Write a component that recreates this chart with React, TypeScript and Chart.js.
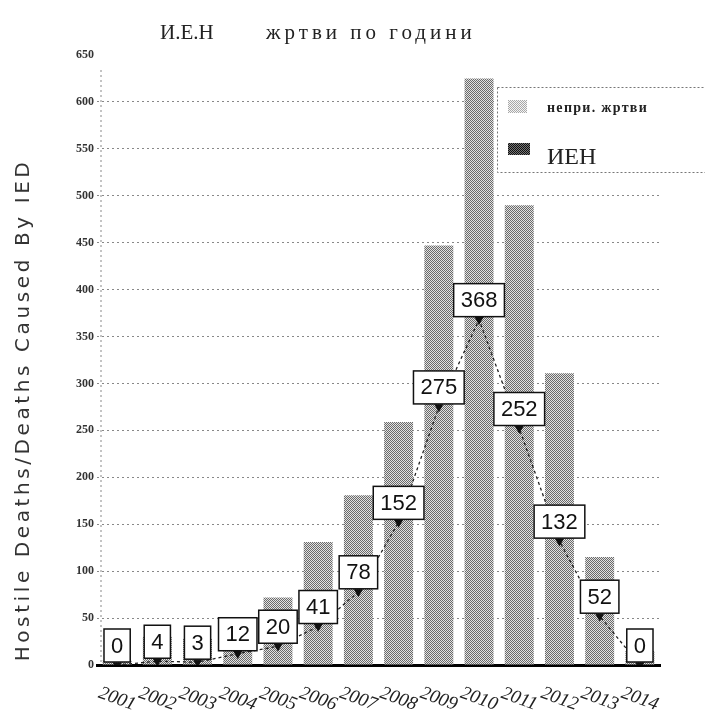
import React, { useEffect, useRef } from "react";
import { Chart, registerables } from "chart.js";

Chart.register(...registerables);

const years = ["2001", "2002", "2003", "2004", "2005", "2006", "2007", "2008", "2009", "2010", "2011", "2012", "2013", "2014"];
const hostileDeaths = [5, 30, 28, 51, 72, 131, 181, 259, 447, 625, 490, 311, 115, 15];
const iedDeaths = [0, 4, 3, 12, 20, 41, 78, 152, 275, 368, 252, 132, 52, 0];
const yMax = 650;
const yStep = 50;
const titleLeft = "И.Е.Н";
const titleRight = "жртви по години";
const yAxisTitle = "Hostile Deaths/Deaths Caused By IED";
const legendLabels = ["непри. жртви", "ИЕН"];

function makePattern(dark: string, light: string): CanvasPattern | string {
  const c = document.createElement("canvas");
  c.width = 2;
  c.height = 2;
  const g = c.getContext("2d");
  if (!g) return dark;
  g.fillStyle = light;
  g.fillRect(0, 0, 2, 2);
  g.fillStyle = dark;
  g.fillRect(0, 0, 1, 1);
  g.fillRect(1, 1, 1, 1);
  const p = g.createPattern(c, "repeat");
  return p || dark;
}

export default function App() {
  const ref = useRef<HTMLCanvasElement | null>(null);

  useEffect(() => {
    const canvas = ref.current;
    if (!canvas) return;
    const barPattern = makePattern("#6a6a6a", "#e2e2e2");
    const lightPattern = makePattern("#a8a8a8", "#f4f4f4");
    const darkPattern = makePattern("#111111", "#777777");

    const decorPlugin = {
      id: "decor",
      beforeDatasetsDraw(chart: any) {
        const { ctx, chartArea } = chart;
        ctx.save();
        ctx.strokeStyle = "#888";
        ctx.lineWidth = 1;
        ctx.setLineDash([2, 3]);
        ctx.beginPath();
        ctx.moveTo(chartArea.left + 4, chartArea.top + 15);
        ctx.lineTo(chartArea.left + 4, chartArea.bottom);
        ctx.stroke();
        ctx.restore();
      },
      afterDatasetsDraw(chart: any) {
        const { ctx } = chart;
        const meta = chart.getDatasetMeta(1);
        ctx.save();
        ctx.font = "22px 'Liberation Sans', Arial, sans-serif";
        ctx.textAlign = "center";
        ctx.textBaseline = "middle";
        meta.data.forEach((pt: any, i: number) => {
          const txt = String(iedDeaths[i]);
          const w = ctx.measureText(txt).width + 14;
          const h = 33;
          const bottom = pt.y - 3;
          const x0 = pt.x - w / 2;
          ctx.fillStyle = "#ffffff";
          ctx.fillRect(x0, bottom - h, w, h);
          ctx.strokeStyle = "#111";
          ctx.lineWidth = 1.5;
          ctx.setLineDash([]);
          ctx.strokeRect(x0, bottom - h, w, h);
          ctx.fillStyle = "#111";
          ctx.fillText(txt, pt.x, bottom - h / 2 + 1);
        });
        ctx.restore();
      },
      afterDraw(chart: any) {
        const { ctx, scales } = chart;
        ctx.save();
        // Title
        ctx.fillStyle = "#222";
        ctx.textBaseline = "middle";
        ctx.textAlign = "left";
        ctx.font = "21px 'Liberation Serif', 'DejaVu Serif', serif";
        ctx.fillText(titleLeft, 160, 33);
        ctx.save();
        ctx.font = "21px 'Liberation Serif', 'DejaVu Serif', serif";
        (ctx as any).letterSpacing = "4px";
        ctx.fillText(titleRight, 266, 33);
        ctx.restore();

        // Y axis title
        ctx.save();
        ctx.translate(24, 410);
        ctx.rotate(-Math.PI / 2);
        ctx.font = "20px 'DejaVu Sans', Verdana, sans-serif";
        (ctx as any).letterSpacing = "3.6px";
        ctx.fillStyle = "#333";
        ctx.textAlign = "center";
        ctx.textBaseline = "middle";
        ctx.fillText(yAxisTitle, 0, 0);
        ctx.restore();

        // X labels
        const xs = scales.x;
        ctx.font = "italic 19px 'Liberation Serif', 'DejaVu Serif', serif";
        ctx.fillStyle = "#222";
        ctx.textAlign = "center";
        ctx.textBaseline = "middle";
        years.forEach((y, i) => {
          const px = xs.getPixelForValue(i);
          ctx.save();
          ctx.translate(px, 699);
          ctx.rotate(0.35);
          ctx.fillText(y, 0, 0);
          ctx.restore();
        });

        // Legend
        const lx = 497, ly = 87, lw = 210, lh = 85;
        ctx.fillStyle = "#ffffff";
        ctx.fillRect(lx, ly, lw, lh);
        ctx.strokeStyle = "#777";
        ctx.lineWidth = 1;
        ctx.setLineDash([2, 2]);
        ctx.strokeRect(lx + 0.5, ly + 0.5, lw, lh);
        ctx.setLineDash([]);
        ctx.fillStyle = lightPattern as any;
        ctx.fillRect(508, 100, 19, 13);
        ctx.fillStyle = darkPattern as any;
        ctx.fillRect(508, 143, 22, 12);
        ctx.fillStyle = "#222";
        ctx.textAlign = "left";
        ctx.save();
        ctx.font = "bold 14px 'Liberation Serif', 'DejaVu Serif', serif";
        (ctx as any).letterSpacing = "1.3px";
        ctx.fillText(legendLabels[0], 547, 108);
        ctx.restore();
        ctx.font = "24px 'Liberation Serif', 'DejaVu Serif', serif";
        ctx.fillText(legendLabels[1], 547, 158);
        ctx.restore();
      },
    };

    const chart = new Chart(canvas, {
      type: "bar",
      data: {
        labels: years,
        datasets: [
          {
            type: "bar",
            label: legendLabels[0],
            data: hostileDeaths,
            backgroundColor: barPattern as any,
            borderWidth: 0,
            barPercentage: 0.72,
            categoryPercentage: 1,
            order: 1,
          },
          {
            type: "line",
            label: legendLabels[1],
            data: iedDeaths,
            borderColor: "#222",
            borderWidth: 1.3,
            borderDash: [3, 3],
            pointStyle: "triangle",
            rotation: 180,
            pointRadius: 4,
            pointBackgroundColor: "#111",
            pointBorderColor: "#111",
            tension: 0,
            order: 0,
          } as any,
        ],
      },
      options: {
        responsive: false,
        animation: false,
        layout: { padding: { top: 55, right: 45, left: 0, bottom: 0 } },
        plugins: {
          legend: { display: false },
          title: { display: false },
          tooltip: { enabled: false },
        },
        scales: {
          x: {
            offset: true,
            grid: { display: false },
            border: { display: true, color: "#000", width: 3 },
            ticks: { display: false },
            afterFit: (s: any) => {
              s.height = 53;
            },
          },
          y: {
            min: 0,
            max: yMax,
            ticks: {
              stepSize: yStep,
              padding: 3,
              color: "#333",
              font: { family: "'Liberation Serif', serif", size: 12, weight: "bold" },
            },
            grid: {
              drawTicks: false,
              color: (c: any) => (c.tick && (c.tick.value === 0 || c.tick.value === yMax) ? "rgba(0,0,0,0)" : "#888"),
              lineWidth: 1,
            },
            border: { display: false, dash: [2, 3] },
            afterFit: (s: any) => {
              s.width = 97;
            },
          },
        },
      },
      plugins: [decorPlugin],
    });
    return () => chart.destroy();
  }, []);

  return (
    <div style={{ position: "absolute", left: 0, top: 0, width: 705, height: 718, background: "#fff" }}>
      <canvas ref={ref} width={705} height={718} style={{ display: "block" }} />
    </div>
  );
}
